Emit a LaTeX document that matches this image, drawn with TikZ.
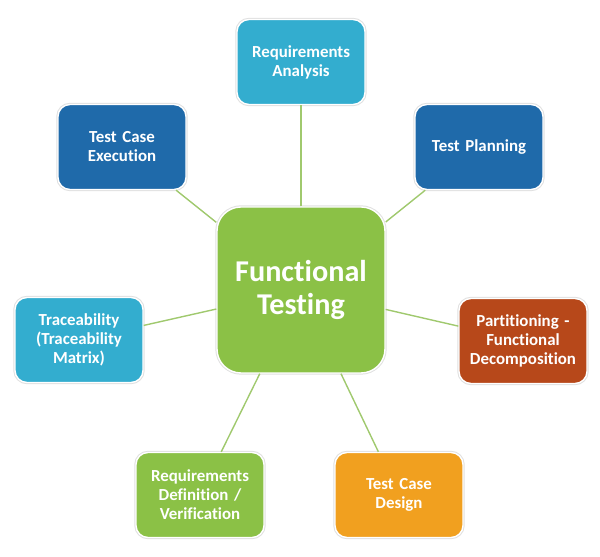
\documentclass[tikz,border=0pt]{standalone}
\usepackage{fontspec}
\setmainfont[Ligatures=NoCommon]{Carlito}
\usetikzlibrary{positioning}
\definecolor{tealbox}{RGB}{51, 173, 207}
\definecolor{bluebox}{RGB}{31, 106, 170}
\definecolor{rustbox}{RGB}{183, 72, 26}
\definecolor{orangebox}{RGB}{241, 160, 31}
\definecolor{greenbox}{RGB}{139, 193, 70}
\definecolor{linkgreen}{RGB}{160, 201, 110}

\tikzset{
    topic/.style={rounded corners=0.3cm, minimum width=3.2cm, minimum height=2.125cm,
        text width=2.9cm, align=center, text=white, font=\bfseries\fontsize{12}{13.5}\selectfont,
        draw=white, line width=1pt, preaction={draw=black!12, line width=2.4pt}},
    hub/.style={rounded corners=0.6cm, minimum width=4.2cm, minimum height=4.15cm,
        align=center, text=white, fill=greenbox, font=\bfseries\fontsize{21.5}{23.5}\selectfont,
        draw=white, line width=1pt, preaction={draw=black!12, line width=2.4pt}},
    link/.style={draw=linkgreen, line width=1pt}
}

\begin{document}
\begin{tikzpicture}
    \useasboundingbox (0, 0) rectangle (15, 13.925);

    % Hub
    \node[hub] (func) at (7.525, 6.675) {Functional\\Testing};

    % Surrounding topics
    \node[topic, fill=tealbox] (reqan) at (7.525, 12.375) {Requirements\\Analysis};
    \node[topic, fill=bluebox] (plan) at (11.975, 10.25) {Test Planning};
    \node[topic, fill=rustbox] (part) at (13.075, 5.4) {Partitioning -\\Functional\\Decomposition};
    \node[topic, fill=orangebox] (design) at (9.975, 1.55) {Test Case\\Design};
    \node[topic, fill=greenbox] (reqdef) at (5.0, 1.55) {Requirements\\Definition /\\Verification};
    \node[topic, fill=tealbox] (trace) at (1.975, 5.425) {Traceability\\(Traceability\\Matrix)};
    \node[topic, fill=bluebox] (exec) at (3.05, 10.25) {Test Case\\Execution};

    % Links
    \foreach \t in {reqan, plan, part, design, reqdef, trace, exec}
        \draw[link] (func) -- (\t);
\end{tikzpicture}
\end{document}
